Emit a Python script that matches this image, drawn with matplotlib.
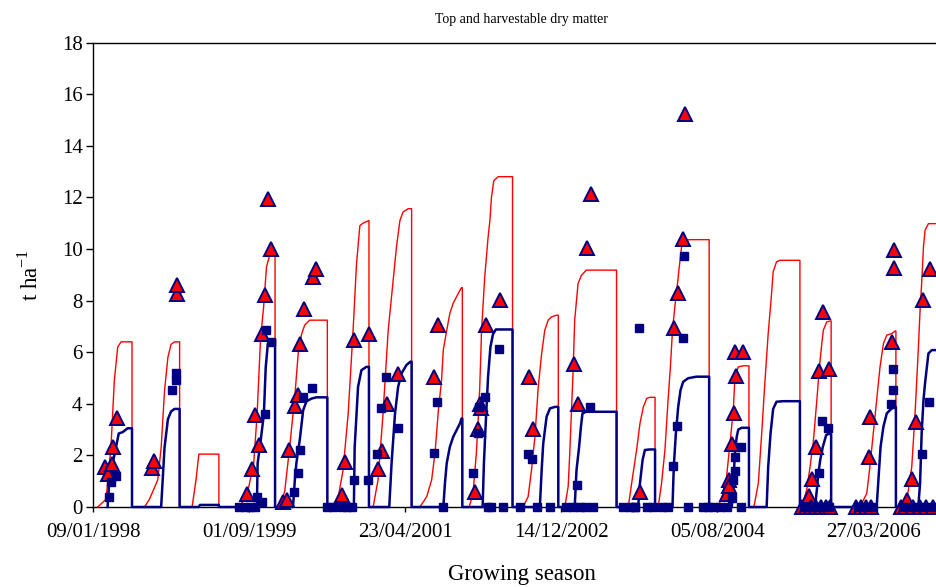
import numpy as np
import pandas as pd
import matplotlib
matplotlib.use("Agg")
import matplotlib.pyplot as plt

plt.rcParams['font.family'] = ['Liberation Serif', 'DejaVu Serif']

# sowing date of each growing season
sowing = ['1998-01-27', '1998-07-26', '1999-01-25', '1999-07-26', '1999-12-28',
          '2000-08-02', '2000-12-21', '2001-06-19', '2001-12-25', '2002-07-21',
          '2002-12-28', '2003-08-29', '2003-12-22', '2004-08-09', '2004-12-24',
          '2005-06-26', '2006-02-05', '2006-07-28']

# simulated top dry matter (t/ha) against days after sowing
sim_top_das = [
    [0, 32, 51, 64, 77, 90, 132, 132],
    [0, 19, 51, 64, 77, 90, 102, 115, 135, 135],
    [0, 15, 26, 103, 103],
    [0, 30, 55, 68, 81, 93, 104, 116, 127, 137, 137],
    [0, 19, 38, 58, 71, 84, 96, 115, 183, 183],
    [0, 25, 45, 64, 77, 90, 102, 125, 125],
    [0, 19, 38, 58, 77, 90, 103, 115, 135, 148, 148],
    [0, 26, 45, 58, 71, 83, 90, 103, 115, 128, 141, 154, 160, 163, 163],
    [0, 15, 28, 35, 41, 48, 60, 73, 80, 86, 95, 112, 167, 167],
    [0, 19, 32, 45, 58, 71, 83, 96, 109, 128, 135, 135],
    [0, 13, 19, 26, 32, 38, 51, 64, 83, 199, 199],
    [0, 13, 32, 45, 58, 71, 83, 103, 103],
    [0, 13, 26, 38, 47, 55, 64, 73, 81, 90, 103, 122, 196, 196],
    [0, 19, 32, 45, 58, 64, 77, 96, 118, 118],
    [0, 17, 30, 42, 55, 68, 74, 87, 100, 177, 177],
    [0, 19, 32, 45, 58, 68, 77, 83, 96, 109, 113, 113],
    [0, 26, 38, 51, 64, 77, 90, 103, 122, 135, 138, 138],
    [0, 13, 26, 38, 51, 58, 64, 71, 77, 90, 160, 160],
]
sim_top = [
    [0, 0.3, 2.3, 4.9, 6.2, 6.4, 6.4, 0],
    [0, 0.3, 1.05, 2.3, 4.5, 5.8, 6.3, 6.4, 6.4, 0],
    [0, 1.05, 2.05, 2.05, 0],
    [0, 0.5, 1.7, 3.6, 6.5, 7.75, 9.3, 9.75, 9.8, 9.8, 0],
    [0, 0.6, 2.3, 4.3, 5.95, 6.7, 7.05, 7.24, 7.24, 0],
    [0, 1.4, 3.6, 6.85, 9.4, 10.9, 11.0, 11.1, 0],
    [0, 1.05, 3.6, 6.85, 8.8, 10.1, 11.1, 11.43, 11.56, 11.56, 0],
    [0, 0.4, 1.05, 2.1, 3.75, 4.9, 6.1, 6.85, 7.5, 7.9, 8.15, 8.4, 8.5, 8.5, 0],
    [0, 0.5, 2.1, 3.4, 4.65, 6.85, 8.9, 10.45, 11.1, 12.0, 12.65, 12.8, 12.8, 0],
    [0, 0.4, 1.43, 2.72, 4.66, 5.95, 6.85, 7.24, 7.37, 7.43, 7.43, 0],
    [0, 0.8, 2.08, 3.76, 5.3, 7.24, 8.66, 8.98, 9.18, 9.18, 0],
    [0, 0.92, 2.21, 3.24, 3.88, 4.21, 4.25, 4.25, 0],
    [0, 0.92, 2.21, 4.14, 5.43, 6.85, 7.75, 8.53, 9.3, 10.08, 10.34, 10.36, 10.36, 0],
    [0, 0.53, 1.17, 2.46, 3.76, 5.04, 5.43, 5.47, 5.47, 0],
    [0, 0.92, 2.85, 4.79, 6.72, 8.27, 9.11, 9.5, 9.56, 9.56, 0],
    [0, 0.66, 1.56, 2.59, 4.14, 5.43, 6.33, 6.85, 7.17, 7.21, 7.21, 0],
    [0, 0.53, 1.56, 2.85, 4.14, 5.43, 6.33, 6.66, 6.72, 6.82, 6.82, 0],
    [0, 0.66, 1.56, 3.5, 6.08, 7.63, 8.66, 10.08, 10.72, 10.98, 10.98, 0],
]

# simulated harvestable dry matter (t/ha)
sim_harv_das = [
    [38, 45, 58, 70, 81, 96, 115, 132, 132],
    [64, 70, 77, 90, 102, 115, 135, 135],
    [26, 30, 103, 103],
    [67, 70, 82, 94, 101, 109, 117, 137, 137],
    [51, 58, 64, 77, 90, 103, 122, 141, 183, 183],
    [67, 70, 83, 96, 115, 125, 125],
    [62, 71, 84, 96, 109, 128, 143, 148, 148],
    [90, 96, 103, 115, 128, 141, 154, 160, 163, 163],
    [52, 57, 64, 73, 82, 92, 103, 167, 167],
    [64, 71, 77, 90, 103, 122, 135, 135],
    [38, 45, 55, 62, 68, 83, 199, 199],
    [38, 45, 55, 64, 83, 103, 103],
    [55, 60, 68, 77, 86, 96, 115, 147, 196, 196],
    [52, 58, 64, 71, 77, 90, 118, 118],
    [49, 55, 64, 74, 87, 113, 177, 177],
    [51, 58, 64, 71, 81, 94, 102, 113, 113],
    [64, 70, 79, 90, 103, 122, 135, 138, 138],
    [51, 58, 64, 71, 77, 90, 103, 160, 160],
]
sim_harv = [
    [0, 1.05, 1.7, 2.3, 2.85, 2.9, 3.05, 3.05, 0],
    [0, 1.05, 2.3, 3.4, 3.7, 3.8, 3.8, 0],
    [0, 0.08, 0.08, 0],
    [0, 1.7, 2.6, 3.6, 5.4, 6.3, 6.5, 6.5, 0],
    [0, 1.05, 1.7, 2.6, 3.75, 4.1, 4.2, 4.25, 4.25, 0],
    [0, 2.3, 4.65, 5.3, 5.43, 5.43, 0],
    [0, 1.7, 3.6, 4.65, 5.17, 5.5, 5.63, 5.63, 0],
    [0, 0.9, 1.7, 2.33, 2.72, 2.98, 3.24, 3.43, 3.43, 0],
    [0, 1.7, 3.25, 5.05, 6.2, 6.7, 6.88, 6.88, 0],
    [0, 1.43, 2.46, 3.5, 3.82, 3.88, 3.88, 0],
    [0, 1.43, 2.33, 3.11, 3.63, 3.69, 3.69, 0],
    [0, 0.92, 1.82, 2.21, 2.23, 2.23, 0],
    [0, 1.56, 2.85, 3.88, 4.53, 4.85, 4.99, 5.05, 5.05, 0],
    [0, 0.92, 2.08, 2.72, 3.0, 3.07, 3.07, 0],
    [0, 1.56, 2.85, 3.8, 4.08, 4.1, 4.1, 0],
    [0, 0.66, 1.3, 1.82, 2.33, 2.79, 2.83, 2.83, 0],
    [0, 0.92, 2.33, 3.11, 3.63, 3.82, 3.88, 3.88, 0],
    [0, 0.92, 2.85, 4.14, 4.79, 5.95, 6.08, 6.08, 0],
]

# observed top dry matter (t/ha)
obs_top_das = [
    [30, 38, 54, 60, 73],
    [27, 35, 124, 124],
    [],
    [29, 50, 59, 74, 87, 99, 108, 121],
    [13, 28, 36, 59, 69, 77, 92, 128, 141],
    [23, 33, 69, 125],
    [19, 36, 54, 96],
    [54, 71],
    [22, 35, 41, 47, 64, 118],
    [23, 36],
    [35, 51, 86, 99],
    [45],
    [62, 76, 96, 103],
    [32, 41, 42, 54, 60, 64, 68, 94],
    [],
    [1, 17, 26, 36, 40, 55, 55, 68, 74, 83, 94, 105, 109],
    [-15, 4, 23, 33, 38, 42, 123, 131, 131],
    [-15, 0, 6, 28, 31, 41, 58, 68, 81, 97, 108],
]
obs_top = [
    [1.56, 1.28, 1.66, 2.33, 3.44],
    [1.5, 1.79, 8.25, 8.59],
    [],
    [0.5, 1.47, 3.56, 2.4, 6.7, 8.2, 11.95, 10.0],
    [0.2, 0.27, 2.2, 3.92, 4.34, 6.31, 7.69, 8.92, 9.24],
    [0.46, 1.75, 6.47, 6.7],
    [1.46, 2.18, 4.0, 5.17],
    [5.02, 7.05],
    [0.6, 3.01, 4.01, 3.85, 7.05, 8.01],
    [5.02, 3.02],
    [5.56, 4.01, 10.02, 12.14],
    [0.6],
    [6.93, 8.3, 10.4, 15.21],
    [0.5, 1.04, 0.81, 2.46, 3.66, 6.01, 5.07, 6.01],
    [],
    [0, 0, 0.43, 0, 1.07, 2.34, 0, 5.28, 0, 7.54, 0, 5.33, 0],
    [0, 0, 0, 1.92, 3.47, 0, 6.41, 9.27, 9.95],
    [0, 0, 0.27, 1.07, 0, 3.3, 0, 8.04, 0, 9.21, 0],
]

# observed harvestable dry matter (t/ha)
obs_harv_das = [
    [42, 52, 70],
    [106, 121, 121],
    [],
    [0, 20, 40, 59, 69, 85, 97, 102, 120],
    [54, 70, 77, 90, 123, 181, 204],
    [20, 40, 59, 67, 122],
    [15, 32, 49, 96],
    [54, 67, 90],
    [15, 35, 38, 60, 72, 86, 115, 131, 195],
    [19, 32, 52, 103],
    [6, 32, 47, 58, 77, 96, 109, 223, 250, 269],
    [26, 42, 71, 96],
    [13, 38, 58, 73, 94, 100, 115, 173, 192, 211],
    [7, 32, 52, 58, 64, 64, 87, 87],
    [],
    [9, 28, 47, 63, 67, 79, 86, 102, 105],
    [-8, 12, 31, 50, 121, 128, 128],
    [-8, 12, 42, 65, 73, 94, 104, 115],
]
obs_harv = [
    [0.4, 0.98, 1.2],
    [4.53, 4.94, 5.2],
    [],
    [0, 0, 0, 0, 0.4, 0.2, 3.6, 6.85, 6.4],
    [0.59, 1.33, 2.2, 4.27, 4.6, 0, 0],
    [0, 0, 0, 1.04, 1.04],
    [2.05, 3.85, 5.04, 3.05],
    [2.08, 4.08, 0],
    [1.33, 2.85, 3.86, 4.27, 0, 0, 6.14, 0, 0],
    [2.05, 1.85, 0, 0],
    [0, 0, 0.85, 0, 0, 3.86, 0, 0, 0, 0],
    [0, 6.94, 0, 0],
    [0, 0, 1.59, 3.14, 6.53, 9.73, 0, 0, 0, 0],
    [0, 0, 0.34, 1.04, 1.39, 1.92, 2.34, 0],
    [],
    [0, 0, 0, 0, 1.33, 3.34, 0, 3.05, 0],
    [0, 0, 0, 0, 3.99, 4.53, 5.33],
    [0, 0, 0, 2.05, 0, 4.08, 0, 0],
]

tick_labels = ['09/01/1998', '01/09/1999', '23/04/2001',
               '14/12/2002', '05/08/2004', '27/03/2006']
x_end = '2007-01-17'


def to_dates(das_lists):
    out = []
    for sow, das in zip(sowing, das_lists):
        out.extend(pd.Timestamp(sow) + pd.to_timedelta(das, unit='D'))
    return out


def flat(lists):
    return [v for l in lists for v in l]


navy = '#000080'
red = '#FF0000'

fig = plt.figure(figsize=(9.36, 5.87), dpi=100)
ax = fig.add_axes([93 / 936, 80 / 587, 857 / 936, 464.5 / 587])

ax.plot(to_dates(sim_top_das), flat(sim_top), color=red, lw=1.0, zorder=3, clip_on=False)
ax.plot(to_dates(sim_harv_das), flat(sim_harv), color=navy, lw=1.8, zorder=4, clip_on=False)
ax.plot(to_dates(obs_top_das), flat(obs_top), ls='none', marker='^', ms=9.5,
        mfc=red, mec=navy, mew=1.4, zorder=5, clip_on=False)
ax.plot(to_dates(obs_harv_das), flat(obs_harv), ls='none', marker='s', ms=5.5,
        mfc=navy, mec=navy, zorder=6, clip_on=False)

tick_dates = pd.to_datetime(tick_labels, format='%d/%m/%Y')
ax.set_ylim(0, 18)
ax.set_yticks(range(0, 19, 2))
ax.set_xlim(tick_dates[0], pd.Timestamp(x_end))
ax.set_xticks(tick_dates)
ax.set_xticklabels(tick_labels)

ax.spines['right'].set_visible(False)
for s in ['left', 'top', 'bottom']:
    ax.spines[s].set_linewidth(1.0)
ax.tick_params(axis='y', direction='out', length=5, width=1, pad=2.5, labelsize=15)
ax.tick_params(axis='x', direction='out', length=3.5, width=1, pad=8, labelsize=15)

ax.set_title('Top and harvestable dry matter', fontsize=10, pad=14)
ax.set_xlabel('Growing season', fontsize=16.5, labelpad=16)
ax.set_ylabel('t ha$^{\\mathregular{-1}}$', fontsize=16.5, labelpad=14)

fig.savefig('out.png', dpi=100)
